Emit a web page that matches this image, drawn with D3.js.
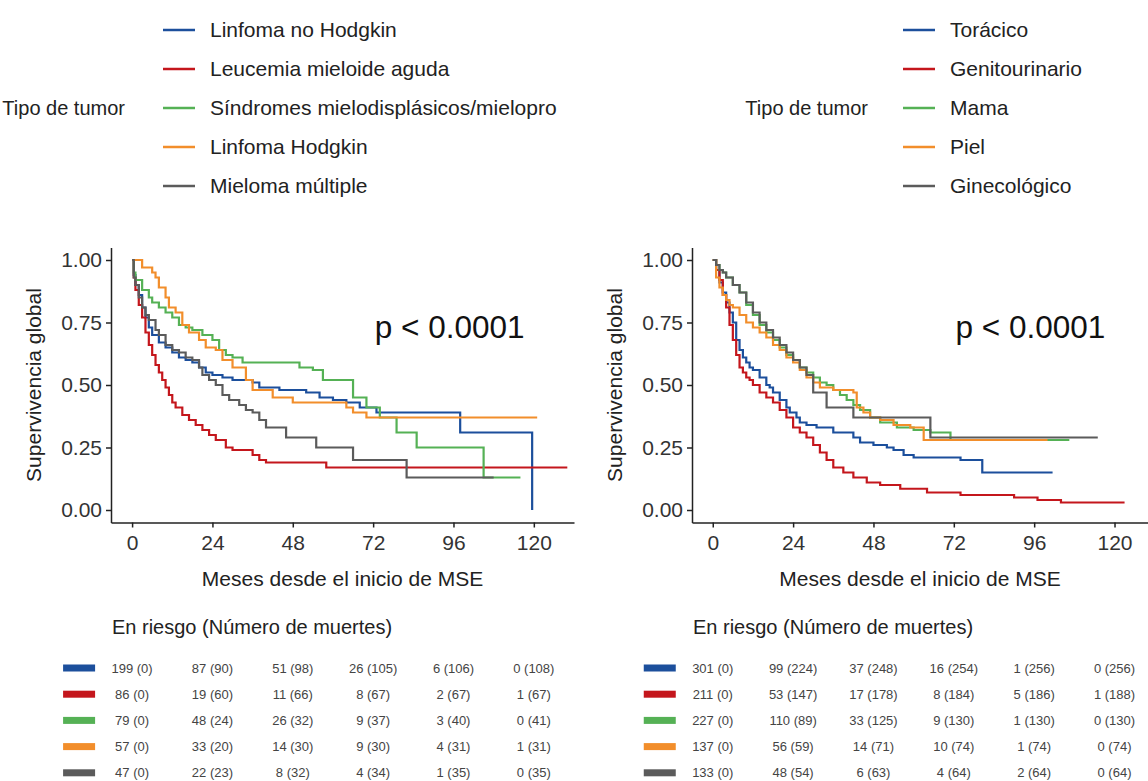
<!DOCTYPE html>
<html>
<head>
<meta charset="utf-8">
<script src="https://cdn.jsdelivr.net/npm/d3@7"></script>
<style>
body { margin: 0; background: #fff; }
svg text { font-family: "Liberation Sans", Arial, sans-serif; }
</style>
</head>
<body>
<svg id="chart" width="1148" height="781"></svg>
<script>
// --- data ---
var riskTimes = [0, 24, 48, 72, 96, 120];
var yTicks = [0, 0.25, 0.5, 0.75, 1];
var colors = ["#1c4f9c", "#c4161c", "#55b155", "#f28e2b", "#5b5b5b"];

// hematologic tumours (left)
var hemaNames = ["Linfoma no Hodgkin", "Leucemia mieloide aguda", "Síndromes mielodisplásicos/mieloproliferativos", "Linfoma Hodgkin", "Mieloma múltiple"];
var hemaLNH = [[0,1],[0.5,0.94],[1,0.9],[2,0.86],[3,0.81],[4,0.77],[5,0.73],[6,0.7],[8,0.67],[10,0.65],[12,0.63],[14,0.61],[16,0.6],[18,0.59],[20,0.57],[22,0.55],[24,0.54],[27,0.53],[30,0.52],[36,0.51],[38,0.49],[44,0.48],[52,0.47],[56,0.45],[60,0.44],[64,0.43],[68,0.41],[73,0.39],[98,0.31],[119.5,0]];
var hemaLMA = [[0,1],[0.5,0.93],[1,0.88],[2,0.82],[3,0.77],[4,0.71],[5,0.66],[6,0.62],[7,0.58],[8,0.55],[9,0.52],[10,0.49],[11,0.46],[12,0.43],[13,0.41],[15,0.38],[17,0.36],[19,0.34],[21,0.32],[23,0.3],[25,0.28],[28,0.25],[30,0.24],[36,0.22],[38,0.2],[40,0.19],[58,0.17],[130,0.17]];
var hemaSMD = [[0,1],[0.5,0.95],[1,0.92],[3,0.88],[5,0.85],[6,0.83],[8,0.81],[10,0.79],[12,0.77],[14,0.74],[16,0.73],[18,0.72],[21,0.7],[24,0.68],[26,0.64],[28,0.62],[30,0.61],[33,0.59],[48,0.59],[50,0.57],[54,0.56],[57,0.52],[66,0.45],[70,0.41],[74,0.37],[79,0.31],[85,0.25],[105,0.13],[116,0.13]];
var hemaLH = [[0,1],[3,0.97],[6,0.95],[7,0.93],[8,0.89],[10,0.85],[11,0.81],[13,0.79],[15,0.74],[17,0.71],[20,0.68],[22,0.65],[25,0.64],[27,0.6],[30,0.57],[34,0.52],[36,0.48],[42,0.45],[48,0.43],[64,0.41],[66,0.39],[70,0.37],[121,0.37]];
var hemaMM = [[0,1],[0.5,0.93],[1,0.9],[2,0.85],[3,0.81],[4,0.78],[5,0.76],[7,0.72],[8,0.7],[10,0.66],[12,0.64],[14,0.63],[16,0.61],[18,0.6],[20,0.57],[21,0.54],[23,0.52],[25,0.5],[27,0.46],[29,0.44],[32,0.42],[34,0.4],[36,0.39],[38,0.36],[40,0.33],[45,0.33],[46,0.29],[54,0.29],[55,0.25],[66,0.2],[82,0.13],[108,0.13]];
var hemaRisk = [
    ["199 (0)", "87 (90)", "51 (98)", "26 (105)", "6 (106)", "0 (108)"],
    ["86 (0)", "19 (60)", "11 (66)", "8 (67)", "2 (67)", "1 (67)"],
    ["79 (0)", "48 (24)", "26 (32)", "9 (37)", "3 (40)", "0 (41)"],
    ["57 (0)", "33 (20)", "14 (30)", "9 (30)", "4 (31)", "1 (31)"],
    ["47 (0)", "22 (23)", "8 (32)", "4 (34)", "1 (35)", "0 (35)"]
];

// solid tumours (right)
var solidNames = ["Torácico", "Genitourinario", "Mama", "Piel", "Ginecológico"];
var solidTor = [[0,1],[1,0.96],[2,0.91],[3,0.87],[4,0.83],[5,0.79],[6,0.75],[7,0.68],[8,0.64],[9,0.61],[10,0.59],[11,0.57],[12,0.56],[14,0.53],[16,0.5],[17,0.49],[18,0.47],[20,0.44],[22,0.41],[23,0.39],[25,0.37],[26,0.35],[28,0.34],[31,0.33],[36,0.31],[42,0.29],[44,0.27],[48,0.26],[52,0.25],[54,0.24],[57,0.22],[60,0.21],[74,0.2],[80.5,0.15],[101.5,0.15]];
var solidGen = [[0,1],[1,0.96],[2,0.92],[3,0.86],[4,0.81],[5,0.74],[6,0.68],[7,0.62],[8,0.57],[9,0.55],[10,0.53],[11,0.52],[12,0.5],[14,0.47],[16,0.45],[18,0.43],[20,0.4],[22,0.37],[24,0.33],[26,0.31],[28,0.29],[30,0.26],[32,0.23],[34,0.2],[36,0.17],[39,0.15],[42,0.13],[46,0.11],[50,0.1],[56,0.085],[64,0.07],[74,0.06],[90,0.05],[97,0.04],[104,0.03],[123,0.03]];
var solidMama = [[0,1],[1,0.98],[2,0.96],[3,0.95],[4,0.93],[6,0.9],[8,0.87],[10,0.82],[12,0.78],[14,0.74],[16,0.71],[18,0.68],[20,0.65],[22,0.62],[24,0.6],[26,0.57],[28,0.55],[30,0.53],[32,0.51],[34,0.5],[36,0.48],[38,0.46],[40,0.44],[42,0.42],[44,0.4],[47,0.37],[50,0.35],[55,0.33],[60,0.32],[65,0.31],[71,0.28],[106.5,0.28]];
var solidPiel = [[0,1],[1,0.93],[2,0.89],[3,0.86],[4,0.84],[5,0.82],[6,0.81],[8,0.78],[10,0.75],[12,0.73],[14,0.71],[16,0.69],[18,0.66],[20,0.64],[22,0.61],[24,0.59],[26,0.56],[28,0.53],[30,0.51],[32,0.49],[36,0.48],[42,0.47],[43,0.41],[45,0.39],[47,0.37],[50,0.36],[54,0.34],[59,0.33],[63,0.28],[100,0.28]];
var solidGine = [[0,1],[1,0.98],[2,0.96],[3,0.95],[4,0.93],[6,0.9],[8,0.87],[10,0.83],[12,0.79],[14,0.75],[16,0.72],[18,0.69],[20,0.66],[22,0.63],[24,0.6],[26,0.57],[28,0.54],[30,0.47],[34,0.41],[42,0.37],[65,0.29],[115,0.29]];
var solidRisk = [
    ["301 (0)", "99 (224)", "37 (248)", "16 (254)", "1 (256)", "0 (256)"],
    ["211 (0)", "53 (147)", "17 (178)", "8 (184)", "5 (186)", "1 (188)"],
    ["227 (0)", "110 (89)", "33 (125)", "9 (130)", "1 (130)", "0 (130)"],
    ["137 (0)", "56 (59)", "14 (71)", "10 (74)", "1 (74)", "0 (74)"],
    ["133 (0)", "48 (54)", "6 (63)", "4 (64)", "2 (64)", "0 (64)"]
];

var svg = d3.select("#chart");

var defs = svg.append("defs");
defs.append("clipPath").attr("id", "clipLeft")
    .append("rect").attr("x", 0).attr("y", 0).attr("width", 557).attr("height", 781);

var y = d3.scaleLinear().domain([-0.05, 1.05]).range([522.5, 247.5]);

function drawPanel(p) {
    var g = svg.append("g");
    var x = d3.scaleLinear().domain(p.xDomain).range(p.xRange);

    // legend
    var leg = g.append("g");
    if (p.clip) leg.attr("clip-path", "url(#" + p.clip + ")");
    var legY = function (i) { return 30 + i * 39; };
    leg.append("text")
        .attr("x", p.legTitleEnd)
        .attr("y", legY(2))
        .attr("dy", "0.35em")
        .attr("text-anchor", "end")
        .style("font-size", "20px")
        .style("fill", "#222")
        .text("Tipo de tumor");
    p.names.forEach(function (n, i) {
        leg.append("line")
            .attr("x1", p.legKey).attr("x2", p.legKey + 32)
            .attr("y1", legY(i)).attr("y2", legY(i))
            .attr("stroke", colors[i])
            .attr("stroke-width", 2.5);
        leg.append("text")
            .attr("x", p.legKey + 47)
            .attr("y", legY(i))
            .attr("dy", "0.35em")
            .style("font-size", "21px")
            .style("fill", "#222")
            .text(n);
    });

    // curves
    var line = d3.line()
        .x(function (d) { return x(d[0]); })
        .y(function (d) { return y(d[1]); })
        .curve(d3.curveStepAfter);
    p.series.forEach(function (s, i) {
        g.append("path")
            .datum(s)
            .attr("d", line)
            .attr("fill", "none")
            .attr("stroke", colors[i])
            .attr("stroke-width", 2.2);
    });

    // axes
    var xAxis = g.append("g")
        .attr("transform", "translate(0," + 522.5 + ")")
        .call(d3.axisBottom(x).tickValues(riskTimes).tickSize(5).tickSizeOuter(0).tickPadding(8));
    var yAxis = g.append("g")
        .attr("transform", "translate(" + p.xRange[0] + ",0)")
        .call(d3.axisLeft(y).tickValues(yTicks).tickFormat(d3.format(".2f")).tickSize(5).tickSizeOuter(0).tickPadding(4));
    [xAxis, yAxis].forEach(function (a) {
        a.select(".domain").attr("stroke", "#222").attr("stroke-width", 1.5);
        a.selectAll(".tick line").attr("stroke", "#222").attr("stroke-width", 1.5);
        a.selectAll(".tick text").style("font-size", "21px").style("fill", "#333");
    });

    g.append("text")
        .attr("x", (p.xRange[0] + p.xRange[1]) / 2)
        .attr("y", 586)
        .attr("text-anchor", "middle")
        .style("font-size", "21px")
        .style("fill", "#222")
        .text("Meses desde el inicio de MSE");

    g.append("text")
        .attr("transform", "translate(" + (p.xRange[0] - 70) + "," + y(0.5) + ") rotate(-90)")
        .attr("text-anchor", "middle")
        .style("font-size", "21px")
        .style("fill", "#222")
        .text("Supervivencia global");

    g.append("text")
        .attr("x", x(p.pAt))
        .attr("y", 338)
        .style("font-size", "31.5px")
        .style("fill", "#111")
        .text("p < 0.0001");

    // risk table
    g.append("text")
        .attr("x", p.xRange[0] + 1)
        .attr("y", 634)
        .style("font-size", "20px")
        .style("fill", "#222")
        .text("En riesgo (Número de muertes)");
    p.risk.forEach(function (row, i) {
        var ry = 668 + i * 26.2;
        g.append("rect")
            .attr("x", x(0) - 69)
            .attr("y", ry - 3.5)
            .attr("width", 32)
            .attr("height", 7)
            .attr("fill", colors[i]);
        g.selectAll(null)
            .data(row)
            .enter().append("text")
            .attr("x", function (d, j) { return x(riskTimes[j]); })
            .attr("y", ry)
            .attr("dy", "0.35em")
            .attr("text-anchor", "middle")
            .style("font-size", "13px")
            .style("fill", "#444")
            .text(function (d) { return d; });
    });
}

drawPanel({
    names: hemaNames,
    series: [hemaLNH, hemaLMA, hemaSMD, hemaLH, hemaMM],
    risk: hemaRisk,
    xDomain: [-6.3, 132],
    xRange: [111, 574],
    legKey: 163,
    legTitleEnd: 125,
    pAt: 72.5,
    clip: "clipLeft"
});

drawPanel({
    names: solidNames,
    series: [solidTor, solidGen, solidMama, solidPiel, solidGine],
    risk: solidRisk,
    xDomain: [-6.2, 130],
    xRange: [692, 1148],
    legKey: 903,
    legTitleEnd: 868,
    pAt: 72.5
});
</script>
</body>
</html>
